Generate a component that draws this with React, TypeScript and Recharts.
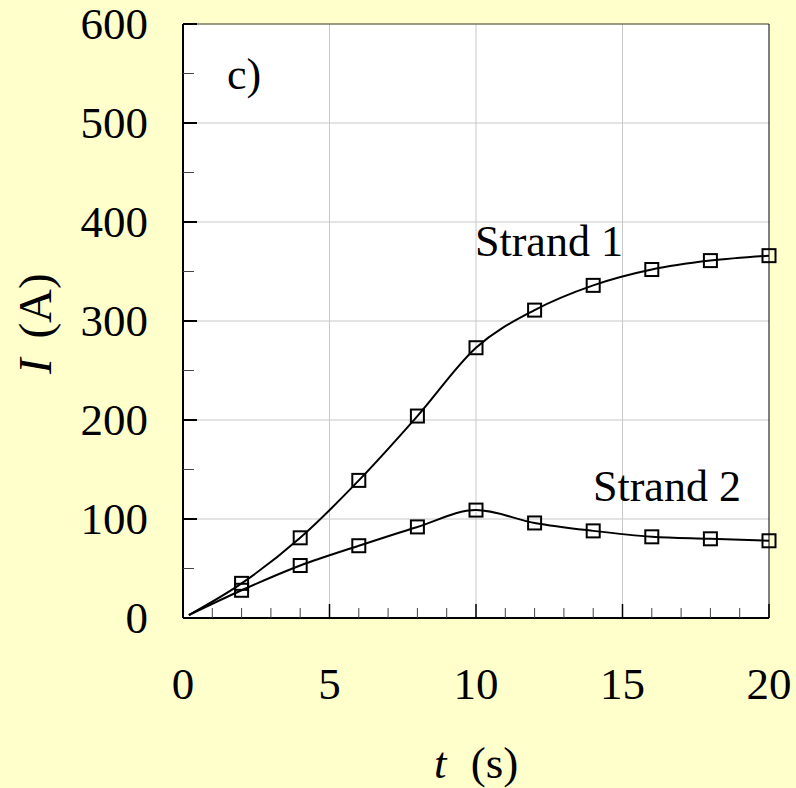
import React from 'react';
import { LineChart, Line, XAxis, YAxis, CartesianGrid, ReferenceLine } from 'recharts';

// time (s) and current (A)
const times = [0.2, 2, 4, 6, 8, 10, 12, 14, 16, 18, 20];
const strand1 = [3, 35, 81, 139, 204, 273, 311, 336, 352, 361, 366];
const strand2 = [3, 28, 53, 73, 92, 109, 96, 88, 82, 80, 78];

const xTicks = [0, 1, 2, 3, 4, 5, 6, 7, 8, 9, 10, 11, 12, 13, 14, 15, 16, 17, 18, 19, 20];
const yTicks = [0, 50, 100, 150, 200, 250, 300, 350, 400, 450, 500, 550, 600];
const xGrid = [5, 10, 15];
const yGrid = [100, 200, 300, 400, 500];

const FONT = '"Liberation Serif", "Times New Roman", serif';

const data = times.map((t, i) => ({ t, s1: strand1[i], s2: strand2[i] }));

const SquareDot = (props: any) => {
  const { cx, cy, index } = props;
  if (index === 0 || cx == null || cy == null) return <g key={`d-${index}`} />;
  return (
    <rect
      key={`d-${index}`}
      x={cx - 6.5}
      y={cy - 6.5}
      width={13}
      height={13}
      fill="none"
      stroke="#000"
      strokeWidth={2}
    />
  );
};

const XTick = (props: any) => {
  const { x, y, payload } = props;
  const major = payload.value % 5 === 0;
  return (
    <g>
      <line x1={x} x2={x} y1={y} y2={y - (major ? 14 : 10)} stroke={major ? '#000' : '#444'} strokeWidth={major ? 1.5 : 1} />
      {major && (
        <text x={x} y={y + 81} textAnchor="middle" fontFamily={FONT} fontSize={45} fill="#000">
          {payload.value}
        </text>
      )}
    </g>
  );
};

const YTick = (props: any) => {
  const { x, y, payload } = props;
  const major = payload.value % 100 === 0;
  return (
    <g>
      <line x1={x} x2={x + (major ? 14 : 11)} y1={y} y2={y} stroke={major ? '#000' : '#444'} strokeWidth={major ? 2 : 1} />
      {major && (
        <text x={x - 35} y={y + 15} textAnchor="end" fontFamily={FONT} fontSize={45} fill="#000">
          {payload.value}
        </text>
      )}
    </g>
  );
};

export default function App() {
  return (
    <div style={{ position: 'absolute', left: 0, top: 0, width: 796, height: 788, background: '#FFFFCC' }}>
      <LineChart width={796} height={788} data={data} margin={{ top: 24, right: 27, left: 0, bottom: 0 }}>
        <CartesianGrid
          fill="#fff"
          stroke="#c8c8c8"
          strokeWidth={1}
          verticalValues={xGrid}
          horizontalValues={yGrid}
        />
        <XAxis
          dataKey="t"
          type="number"
          domain={[0, 20]}
          ticks={xTicks}
          interval={0}
          height={170}
          tickSize={0}
          tickMargin={0}
          axisLine={{ stroke: '#000', strokeWidth: 2 }}
          tick={<XTick />}
        />
        <YAxis
          type="number"
          domain={[0, 600]}
          ticks={yTicks}
          interval={0}
          width={183}
          tickSize={0}
          tickMargin={0}
          axisLine={{ stroke: '#000', strokeWidth: 2 }}
          tick={<YTick />}
        />
        <ReferenceLine y={600} stroke="#7a7a60" strokeWidth={1.5} />
        <ReferenceLine x={20} stroke="#000" strokeWidth={1} />
        <Line
          dataKey="s1"
          type="monotone"
          stroke="#000"
          strokeWidth={2}
          dot={<SquareDot />}
          isAnimationActive={false}
        />
        <Line
          dataKey="s2"
          type="monotone"
          stroke="#000"
          strokeWidth={2}
          dot={<SquareDot />}
          isAnimationActive={false}
        />
        <text x={227} y={89} fontFamily={FONT} fontSize={44} fill="#000">c)</text>
        <text x={475} y={256} fontFamily={FONT} fontSize={44} fill="#000">Strand 1</text>
        <text x={593} y={501} fontFamily={FONT} fontSize={44} fill="#000">Strand 2</text>
        <text x={434} y={778} fontFamily={FONT} fontSize={45} fill="#000">
          <tspan fontStyle="italic">t</tspan>
          <tspan dx={13}> (s)</tspan>
        </text>
        <text
          x={51}
          y={374}
          fontFamily={FONT}
          fontSize={47}
          fill="#000"
          transform="rotate(-90, 51, 374)"
        >
          <tspan fontStyle="italic">I</tspan>
          <tspan dx={8}> (A)</tspan>
        </text>
      </LineChart>
    </div>
  );
}
